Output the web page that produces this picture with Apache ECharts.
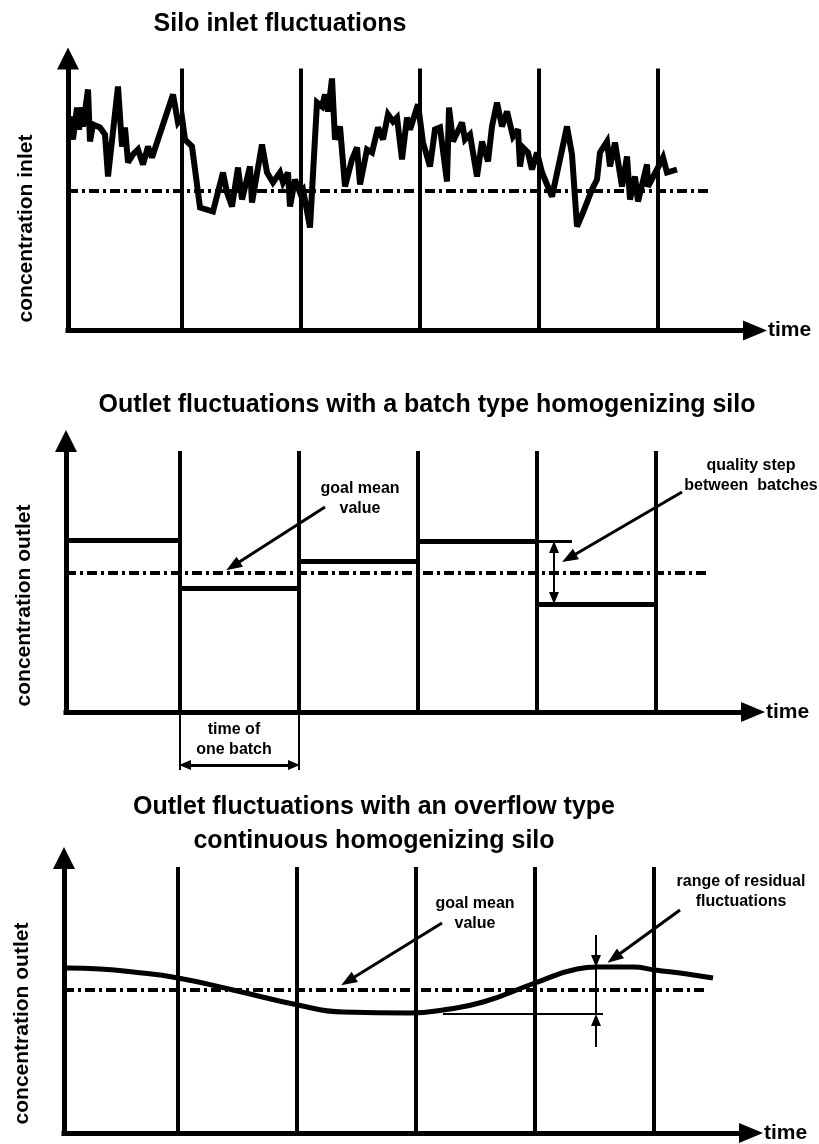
<!DOCTYPE html>
<html>
<head>
<meta charset="utf-8">
<title>Silo homogenizing – inlet and outlet fluctuations</title>
<script src="https://cdn.jsdelivr.net/npm/echarts@6/dist/echarts.min.js"></script>
<style>
  html, body { margin: 0; padding: 0; background: #fff; }
  #chart { width: 819px; height: 1144px; }
</style>
</head>
<body>
<div id="chart"></div>
<script>
// time runs in arbitrary units, one batch = 119
const batchEdges = [119, 238, 357, 476, 595];

// panel 1 - silo inlet
const inletTime = [
  7, 10, 14, 16, 19, 20, 25, 27, 30, 37,
  42, 45, 55, 59, 62, 65, 70, 75, 80, 85,
  89, 110, 115, 119, 122, 129, 137, 150, 160, 164,
  169, 175, 179, 187, 189, 199, 204, 210, 217, 220,
  225, 227, 232, 237, 240, 247, 254, 259, 262, 265,
  269, 272, 277, 282, 289, 294, 297, 304, 309, 315,
  320, 325, 330, 334, 339, 344, 347, 355, 360, 367,
  372, 377, 384, 386, 390, 399, 402, 407, 414, 419,
  425, 429, 434, 439, 444, 450, 455, 457, 460, 465,
  469, 474, 479, 489, 504, 509, 514, 520, 529, 534,
  537, 544, 547, 552, 559, 564, 567, 572, 575, 584,
  585, 595, 600, 604, 614
];
const inletConc = [
  214, 191, 223, 201, 223, 204, 241, 189, 206, 203,
  196, 154, 244, 184, 203, 168, 176, 181, 166, 184,
  173, 236, 208, 213, 191, 184, 123, 119, 158, 138,
  124, 163, 131, 164, 128, 186, 158, 148, 158, 148,
  158, 124, 151, 138, 141, 103, 228, 224, 236, 219,
  252, 191, 204, 144, 171, 183, 146, 181, 178, 203,
  191, 216, 209, 213, 171, 213, 201, 226, 188, 164,
  201, 203, 149, 223, 189, 208, 191, 196, 154, 189,
  169, 204, 228, 204, 219, 194, 201, 164, 183, 178,
  161, 178, 158, 134, 204, 176, 104, 118, 141, 151,
  178, 189, 164, 188, 144, 174, 131, 154, 129, 166,
  144, 163, 173, 158, 161
];

// panel 2 - batch type silo
const batchStart = [5, 119, 238, 357, 476];
const batchEnd = [119, 238, 357, 476, 595];
const batchLevel = [172, 124, 151, 171, 108];

// panel 3 - overflow continuous silo
const overflowTime = [8, 41, 74, 119, 174, 239, 284, 351, 384, 424, 476, 518, 538, 574, 596, 628, 654];
const overflowConc = [165, 164, 161, 155, 143, 128, 121, 120, 123, 131, 150, 164, 166, 166, 163, 159, 155];
const residualLow = 119;
const residualHigh = 166;

const goalMean = [140, 139, 143];
const goalEnd = 647;
const edgeTop = [262, 261, 266];
const yMax = [272, 271, 275];

const titles = [
  'Silo inlet fluctuations',
  'Outlet fluctuations with a batch type homogenizing silo',
  'Outlet fluctuations with an overflow type\ncontinuous homogenizing silo'
];
const yNames = ['concentration inlet', 'concentration outlet', 'concentration outlet'];

// annotation texts and where they sit (data units of their panel)
const notes = [
  { panel: 1, text: 'goal mean\nvalue', at: [299, 213] },
  { panel: 1, text: 'quality step\nbetween  batches', at: [690, 236] },
  { panel: 1, text: 'time of\none batch', at: [173, -28] },
  { panel: 2, text: 'goal mean\nvalue', at: [416, 219] },
  { panel: 2, text: 'range of residual\nfluctuations', at: [682, 241] }
];
// pointer arrows: [from, to]
const pointers = [
  { panel: 1, coords: [[264, 205], [172, 146]] },
  { panel: 1, coords: [[621, 220], [508, 154]] },
  { panel: 2, coords: [[383, 210], [289, 152]] },
  { panel: 2, coords: [[621, 223], [555, 175]] }
];

const FONT = '"Liberation Sans", Arial, Helvetica, sans-serif';
const INK = '#000';
const txt = (size, extra) => Object.assign({ fontFamily: FONT, fontSize: size, fontWeight: 'bold', color: INK }, extra || {});

const grids = [
  { left: 68, top: 58.5, width: 687, height: 272 },
  { left: 66, top: 441, width: 687, height: 271 },
  { left: 64, top: 858, width: 687, height: 275 }
];
const yNameShift = [34, 29, 28];

const series = [];
function lines(i, coords, style, extra) {
  series.push(Object.assign({
    type: 'lines', coordinateSystem: 'cartesian2d', xAxisIndex: i, yAxisIndex: i,
    silent: true, clip: false, polyline: false,
    lineStyle: Object.assign({ color: INK, opacity: 1, width: 2 }, style),
    data: coords.map(c => ({ coords: c }))
  }, extra || {}));
}
const arrowEnd = { symbol: ['none', 'triangle'], symbolSize: [[12, 16], [12, 16]] };
const smallArrows = { symbol: ['triangle', 'triangle'], symbolSize: [[10, 12], [10, 12]] };

grids.forEach((g, i) => {
  lines(i, batchEdges.map(x => [[x, 0], [x, edgeTop[i]]]), { width: 4 });
  lines(i, [[[5, goalMean[i]], [goalEnd, goalMean[i]]]], { width: 4, type: [10, 4, 3, 4] });
});

// panel 1 trace
series.push({
  type: 'line', xAxisIndex: 0, yAxisIndex: 0, silent: true,
  data: inletTime.map((t, k) => [t, inletConc[k]]),
  showSymbol: false, smooth: false,
  lineStyle: { color: INK, width: 6, join: 'miter', miterLimit: 3 }
});

// panel 2 batch levels
lines(1, batchStart.map((s, k) => [[s, batchLevel[k]], [batchEnd[k], batchLevel[k]]]), { width: 5 });
lines(1, [[[batchEnd[3], batchLevel[3]], [511, batchLevel[3]]]], { width: 3 });
lines(1, [[[493, batchLevel[3] - 6], [493, batchLevel[4] + 6]]], { width: 2 }, smallArrows);
lines(1, [[[batchEdges[0], 0], [batchEdges[0], -58]], [[batchEdges[1], 0], [batchEdges[1], -58]]], { width: 2 });
lines(1, [[[batchEdges[0] + 5, -53], [batchEdges[1] - 5, -53]]], { width: 3 }, smallArrows);

// panel 3 smooth outlet
series.push({
  type: 'line', xAxisIndex: 2, yAxisIndex: 2, silent: true,
  data: overflowTime.map((t, k) => [t, overflowConc[k]]),
  showSymbol: false, smooth: 0.5,
  lineStyle: { color: INK, width: 5 }
});
lines(2, [[[384, residualLow], [544, residualLow]], [[537, residualHigh], [537, residualLow]]], { width: 2 });
lines(2, [[[537, 198], [537, residualHigh + 6]], [[537, 86], [537, residualLow - 6]]], { width: 2 },
  { symbol: ['none', 'triangle'], symbolSize: [[10, 12], [10, 12]] });

[0, 1, 2].forEach(i => {
  const ps = pointers.filter(p => p.panel === i);
  if (ps.length) lines(i, ps.map(p => p.coords), { width: 3 }, arrowEnd);
  const ns = notes.filter(n => n.panel === i);
  if (ns.length) series.push({
    type: 'scatter', xAxisIndex: i, yAxisIndex: i, silent: true, clip: false,
    symbolSize: 1, itemStyle: { color: 'rgba(0,0,0,0)', opacity: 1 },
    label: { show: true, position: 'inside', formatter: '{b}', opacity: 1, textBorderWidth: 0, ...txt(16, { lineHeight: 20 }) },
    data: ns.map(n => ({ name: n.text, value: n.at }))
  });
});

const option = {
  animation: false,
  backgroundColor: '#fff',
  title: [
    { text: titles[0], left: 280, top: 24, textStyle: txt(25) },
    { text: titles[1], left: 427, top: 405, textStyle: txt(25) },
    { text: titles[2], left: 374, top: 824, textStyle: txt(25, { lineHeight: 34 }) }
  ].map(t => Object.assign(t, { textAlign: 'center', textVerticalAlign: 'middle', padding: 0 })),
  grid: grids,
  xAxis: grids.map((g, i) => ({
    type: 'value', gridIndex: i, min: 5, max: 692,
    axisLine: { onZero: false, symbol: ['none', 'triangle'], symbolSize: [20, 24], lineStyle: { color: INK, width: 5, cap: 'square' } },
    axisTick: { show: false }, axisLabel: { show: false }, splitLine: { show: false },
    name: 'time', nameLocation: 'end', nameGap: 13,
    nameTextStyle: txt(21, { verticalAlign: 'middle' })
  })),
  yAxis: grids.map((g, i) => ({
    type: 'value', gridIndex: i, min: 0, max: yMax[i],
    axisLine: { onZero: false, symbol: ['none', 'triangle'], symbolSize: [22, 22], lineStyle: { color: INK, width: 5, cap: 'square' } },
    axisTick: { show: false }, axisLabel: { show: false }, splitLine: { show: false },
    name: yNames[i], nameLocation: 'middle', nameRotate: 90, nameGap: 31,
    nameTextStyle: txt(21, { padding: [0, yNameShift[i] * 2, 0, 0] })
  })),
  series: series
};

const chart = echarts.init(document.getElementById('chart'));
chart.setOption(option);
window.addEventListener('resize', () => chart.resize());
</script>
</body>
</html>
